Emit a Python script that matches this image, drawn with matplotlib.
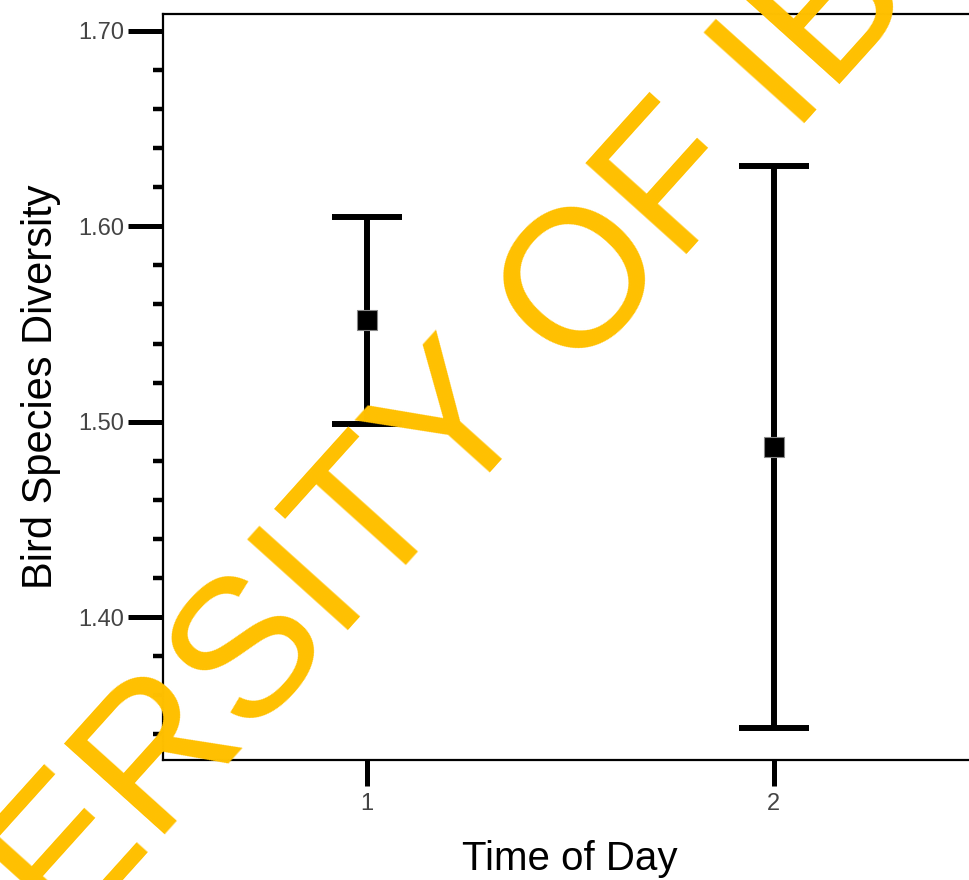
import matplotlib
matplotlib.use("Agg")
import matplotlib.pyplot as plt
from matplotlib.ticker import MultipleLocator, FixedLocator

plt.rcParams['font.family'] = ['Liberation Sans', 'DejaVu Sans']

# Data
time_of_day = [1, 2]
mean_diversity = [1.552, 1.487]
err_diversity = [0.053, 0.144]
y_ticks = [1.40, 1.50, 1.60, 1.70]
y_tick_labels = ["1.40", "1.50", "1.60", "1.70"]
x_tick_labels = ["1", "2"]
watermark = "UNIVERSITY OF IBADAN"

fig = plt.figure(figsize=(9.69, 8.8), dpi=100)
ax = fig.add_axes([163/969, 120/880, (977-163)/969, (760-14)/880])

ax.errorbar(time_of_day, mean_diversity, yerr=err_diversity, fmt='none',
            ecolor='black', elinewidth=4.3, capsize=25, capthick=4.3, zorder=5)
ax.plot(time_of_day, mean_diversity, 's', color='black', markersize=14,
        markeredgecolor='#888888', markeredgewidth=0.8, zorder=6)

ax.set_xlim(0.5, 2.5)
ax.set_ylim(1.3268, 1.7087)

ax.yaxis.set_major_locator(FixedLocator(y_ticks))
ax.set_yticklabels(y_tick_labels)
ax.yaxis.set_minor_locator(MultipleLocator(0.02))
ax.set_xticks(time_of_day)
ax.set_xticklabels(x_tick_labels)

ax.tick_params(axis='y', which='major', length=25, width=3.6, color='black',
               labelsize=17, labelcolor='#444444', pad=3)
ax.tick_params(axis='y', which='minor', length=7, width=3.2, color='black')
ax.tick_params(axis='x', which='major', length=19, width=3.6, color='black',
               labelsize=17, labelcolor='#444444', pad=5)

for s in ['left', 'top', 'bottom', 'right']:
    ax.spines[s].set_linewidth(1.6)
    ax.spines[s].set_color('black')

ax.set_ylabel("Bird Species Diversity", fontsize=30, labelpad=12)
ax.set_xlabel("Time of Day", fontsize=29, labelpad=18)

fig.text(479/969, 1 - 408/880, watermark, fontsize=141, color='#FFC000',
         rotation=48, ha='center', va='center', rotation_mode='anchor', zorder=1)

fig.savefig("out.png", dpi=100)
